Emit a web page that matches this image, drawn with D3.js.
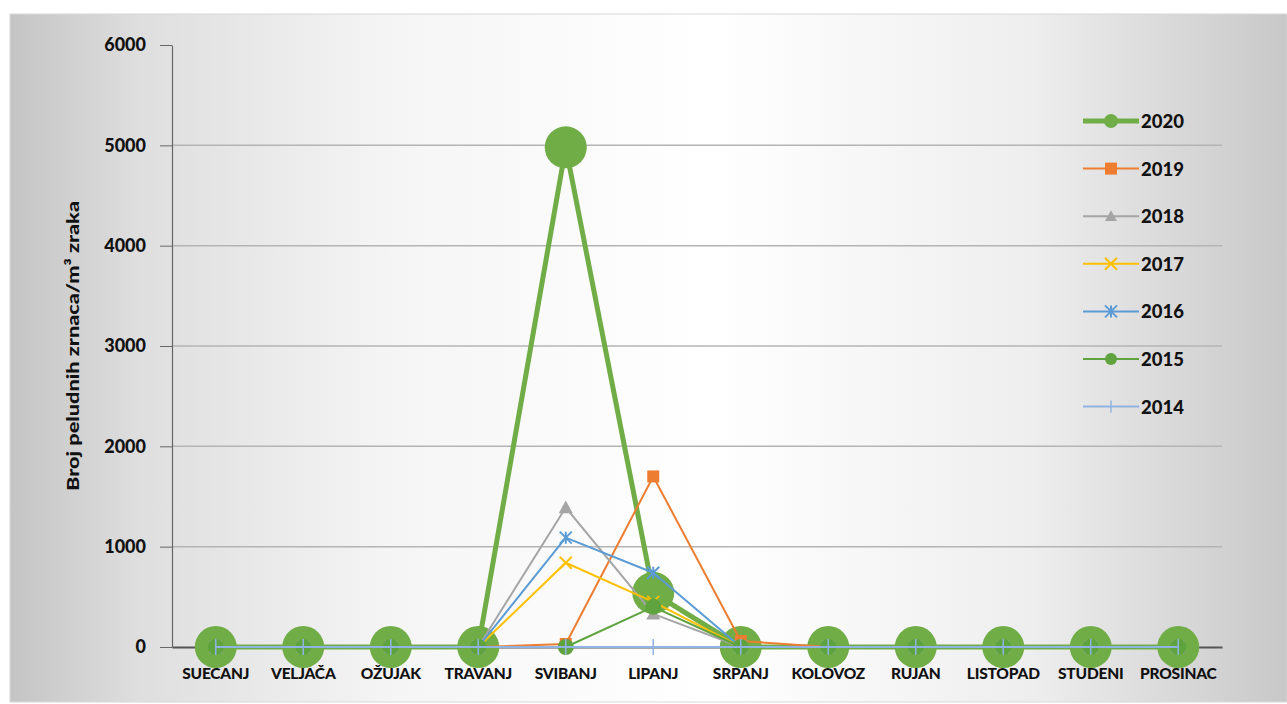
<!DOCTYPE html>
<html>
<head>
<meta charset="utf-8">
<script src="https://cdn.jsdelivr.net/npm/d3@7"></script>
<style>
  body { margin: 0; background: #fff; }
  svg text { font-family: Lato, "Open Sans", sans-serif; font-weight: 900; fill: #111; }
</style>
</head>
<body>
<div id="chart"></div>
<script>
// month names on the x axis
const months = ["SUEČANJ", "VELJAČA", "OŽUJAK", "TRAVANJ", "SVIBANJ", "LIPANJ",
  "SRPANJ", "KOLOVOZ", "RUJAN", "LISTOPAD", "STUDENI", "PROSINAC"];
const yTicks = [0, 1000, 2000, 3000, 4000, 5000, 6000];

// series values
const v2020 = [0, 0, 0, 0, 4980, 540, 0, 0, 0, 0, 0, 0];
const v2019 = [0, 0, 0, 0, 30, 1700, 60, 0, 0, 0, 0, 0];
const v2018 = [0, 0, 0, 0, 1390, 330, 0, 0, 0, 0, 0, 0];
const v2017 = [0, 0, 0, 0, 840, 450, 0, 0, 0, 0, 0, 0];
const v2016 = [0, 0, 0, 0, 1090, 740, 0, 0, 0, 0, 0, 0];
const v2015 = [0, 0, 0, 0, 0, 400, 0, 0, 0, 0, 0, 0];
const v2014 = [0, 0, 0, 0, 0, 0, 0, 0, 0, 0, 0, 0];

const series = [
  { name: "2020", values: v2020, color: "#70ad47", width: 5, marker: "circle", size: 21 },
  { name: "2019", values: v2019, color: "#ed7d31", width: 2, marker: "square", size: 6 },
  { name: "2018", values: v2018, color: "#a5a5a5", width: 2, marker: "triangle", size: 7 },
  { name: "2017", values: v2017, color: "#ffc000", width: 2, marker: "x", size: 6 },
  { name: "2016", values: v2016, color: "#5b9bd5", width: 2, marker: "star", size: 6 },
  { name: "2015", values: v2015, color: "#5fa33f", width: 2, marker: "circle", size: 8 },
  { name: "2014", values: v2014, color: "#8fb4e3", width: 2, marker: "plus", size: 8 }
];

const W = 1287, H = 704;
const plot = { left: 172, right: 1222, top: 45, bottom: 647 };

const svg = d3.select("#chart").append("svg")
  .attr("width", W).attr("height", H);

// background gradient like the chart area fill
const defs = svg.append("defs");
const grad = defs.append("linearGradient").attr("id", "bg")
  .attr("x1", "0").attr("x2", "1").attr("y1", "0").attr("y2", "0");
[["0%", "#c4c4c4"], ["10%", "#dedede"], ["30%", "#f5f5f5"], ["55%", "#ffffff"],
 ["80%", "#eeeeee"], ["100%", "#c8c8c8"]].forEach(s =>
  grad.append("stop").attr("offset", s[0]).attr("stop-color", s[1]));

svg.append("rect").attr("x", 10).attr("y", 14).attr("width", W - 10).attr("height", H - 16)
  .attr("fill", "url(#bg)").attr("stroke", "#d8d8d8");

const x = d3.scaleBand().domain(months).range([plot.left, plot.right]);
const y = d3.scaleLinear().domain([0, 6000]).range([plot.bottom, plot.top]);

// gridlines
svg.append("g").selectAll("line")
  .data(yTicks.filter(t => t > 0 && t < 6000))
  .join("line")
  .attr("x1", plot.left).attr("x2", plot.right)
  .attr("y1", d => y(d)).attr("y2", d => y(d))
  .attr("stroke", "#b4b4b4").attr("stroke-width", 1.5);

// y axis
const yAxis = svg.append("g")
  .attr("transform", `translate(${plot.left},0)`)
  .call(d3.axisLeft(y).tickValues(yTicks).tickFormat(d3.format("d"))
    .tickSize(12).tickPadding(14).tickSizeOuter(0));
yAxis.select(".domain").attr("stroke", "#666").attr("stroke-width", 1.2);
yAxis.selectAll(".tick line").attr("stroke", "#666");
yAxis.selectAll(".tick text").style("font-size", "18px").attr("fill", "#111");

// x axis
const xAxis = svg.append("g")
  .attr("transform", `translate(0,${plot.bottom})`)
  .call(d3.axisBottom(x).tickSize(0).tickPadding(21));
xAxis.select(".domain").attr("stroke", "#555").attr("stroke-width", 2);
xAxis.selectAll(".tick text").style("font-size", "15.5px").attr("fill", "#111")
  .style("letter-spacing", "-0.2px");

// y axis title
svg.append("text")
  .attr("transform", `translate(79,346) rotate(-90)`)
  .attr("text-anchor", "middle")
  .attr("textLength", 290).attr("lengthAdjust", "spacingAndGlyphs")
  .style("font-size", "17px")
  .text("Broj peludnih zrnaca/m³ zraka");

function drawMarker(g, type, size, color) {
  if (type === "circle") {
    g.append("circle").attr("r", size).attr("fill", color);
  } else if (type === "square") {
    g.append("rect").attr("x", -size).attr("y", -size).attr("width", size * 2).attr("height", size * 2)
      .attr("fill", color);
  } else if (type === "triangle") {
    g.append("path").attr("d", `M0,${-size}L${size},${size * 0.8}L${-size},${size * 0.8}Z`).attr("fill", color);
  } else if (type === "x") {
    g.append("path").attr("d", `M${-size},${-size}L${size},${size}M${-size},${size}L${size},${-size}`)
      .attr("stroke", color).attr("stroke-width", 2);
  } else if (type === "star") {
    g.append("path").attr("d", `M${-size},${-size}L${size},${size}M${-size},${size}L${size},${-size}M0,${-size}L0,${size}`)
      .attr("stroke", color).attr("stroke-width", 2);
  } else if (type === "plus") {
    g.append("path").attr("d", `M0,${-size}L0,${size}`)
      .attr("stroke", color).attr("stroke-width", 1.5);
  }
}

const line = d3.line()
  .x((d, i) => x(months[i]) + x.bandwidth() / 2)
  .y(d => y(d));

// series, first one drawn at the bottom
series.forEach(s => {
  const g = svg.append("g");
  g.append("path").datum(s.values)
    .attr("d", line).attr("fill", "none")
    .attr("stroke", s.color).attr("stroke-width", s.width)
    .attr("stroke-linejoin", "round");
  s.values.forEach((v, i) => {
    const m = g.append("g")
      .attr("transform", `translate(${x(months[i]) + x.bandwidth() / 2},${y(v)})`);
    drawMarker(m, s.marker, s.size, s.color);
  });
});

// legend
const legend = svg.append("g").attr("transform", "translate(1083,121)");
series.forEach((s, i) => {
  const row = legend.append("g").attr("transform", `translate(0,${i * 47.6})`);
  row.append("line").attr("x1", 0).attr("x2", 56).attr("y1", 0).attr("y2", 0)
    .attr("stroke", s.color).attr("stroke-width", s.width);
  const m = row.append("g").attr("transform", "translate(28,0)");
  drawMarker(m, s.marker, s.name === "2020" ? 7 : Math.min(s.size, 6), s.color);
  row.append("text").attr("x", 58).attr("y", 7).style("font-size", "18.5px").text(s.name);
});
</script>
</body>
</html>
